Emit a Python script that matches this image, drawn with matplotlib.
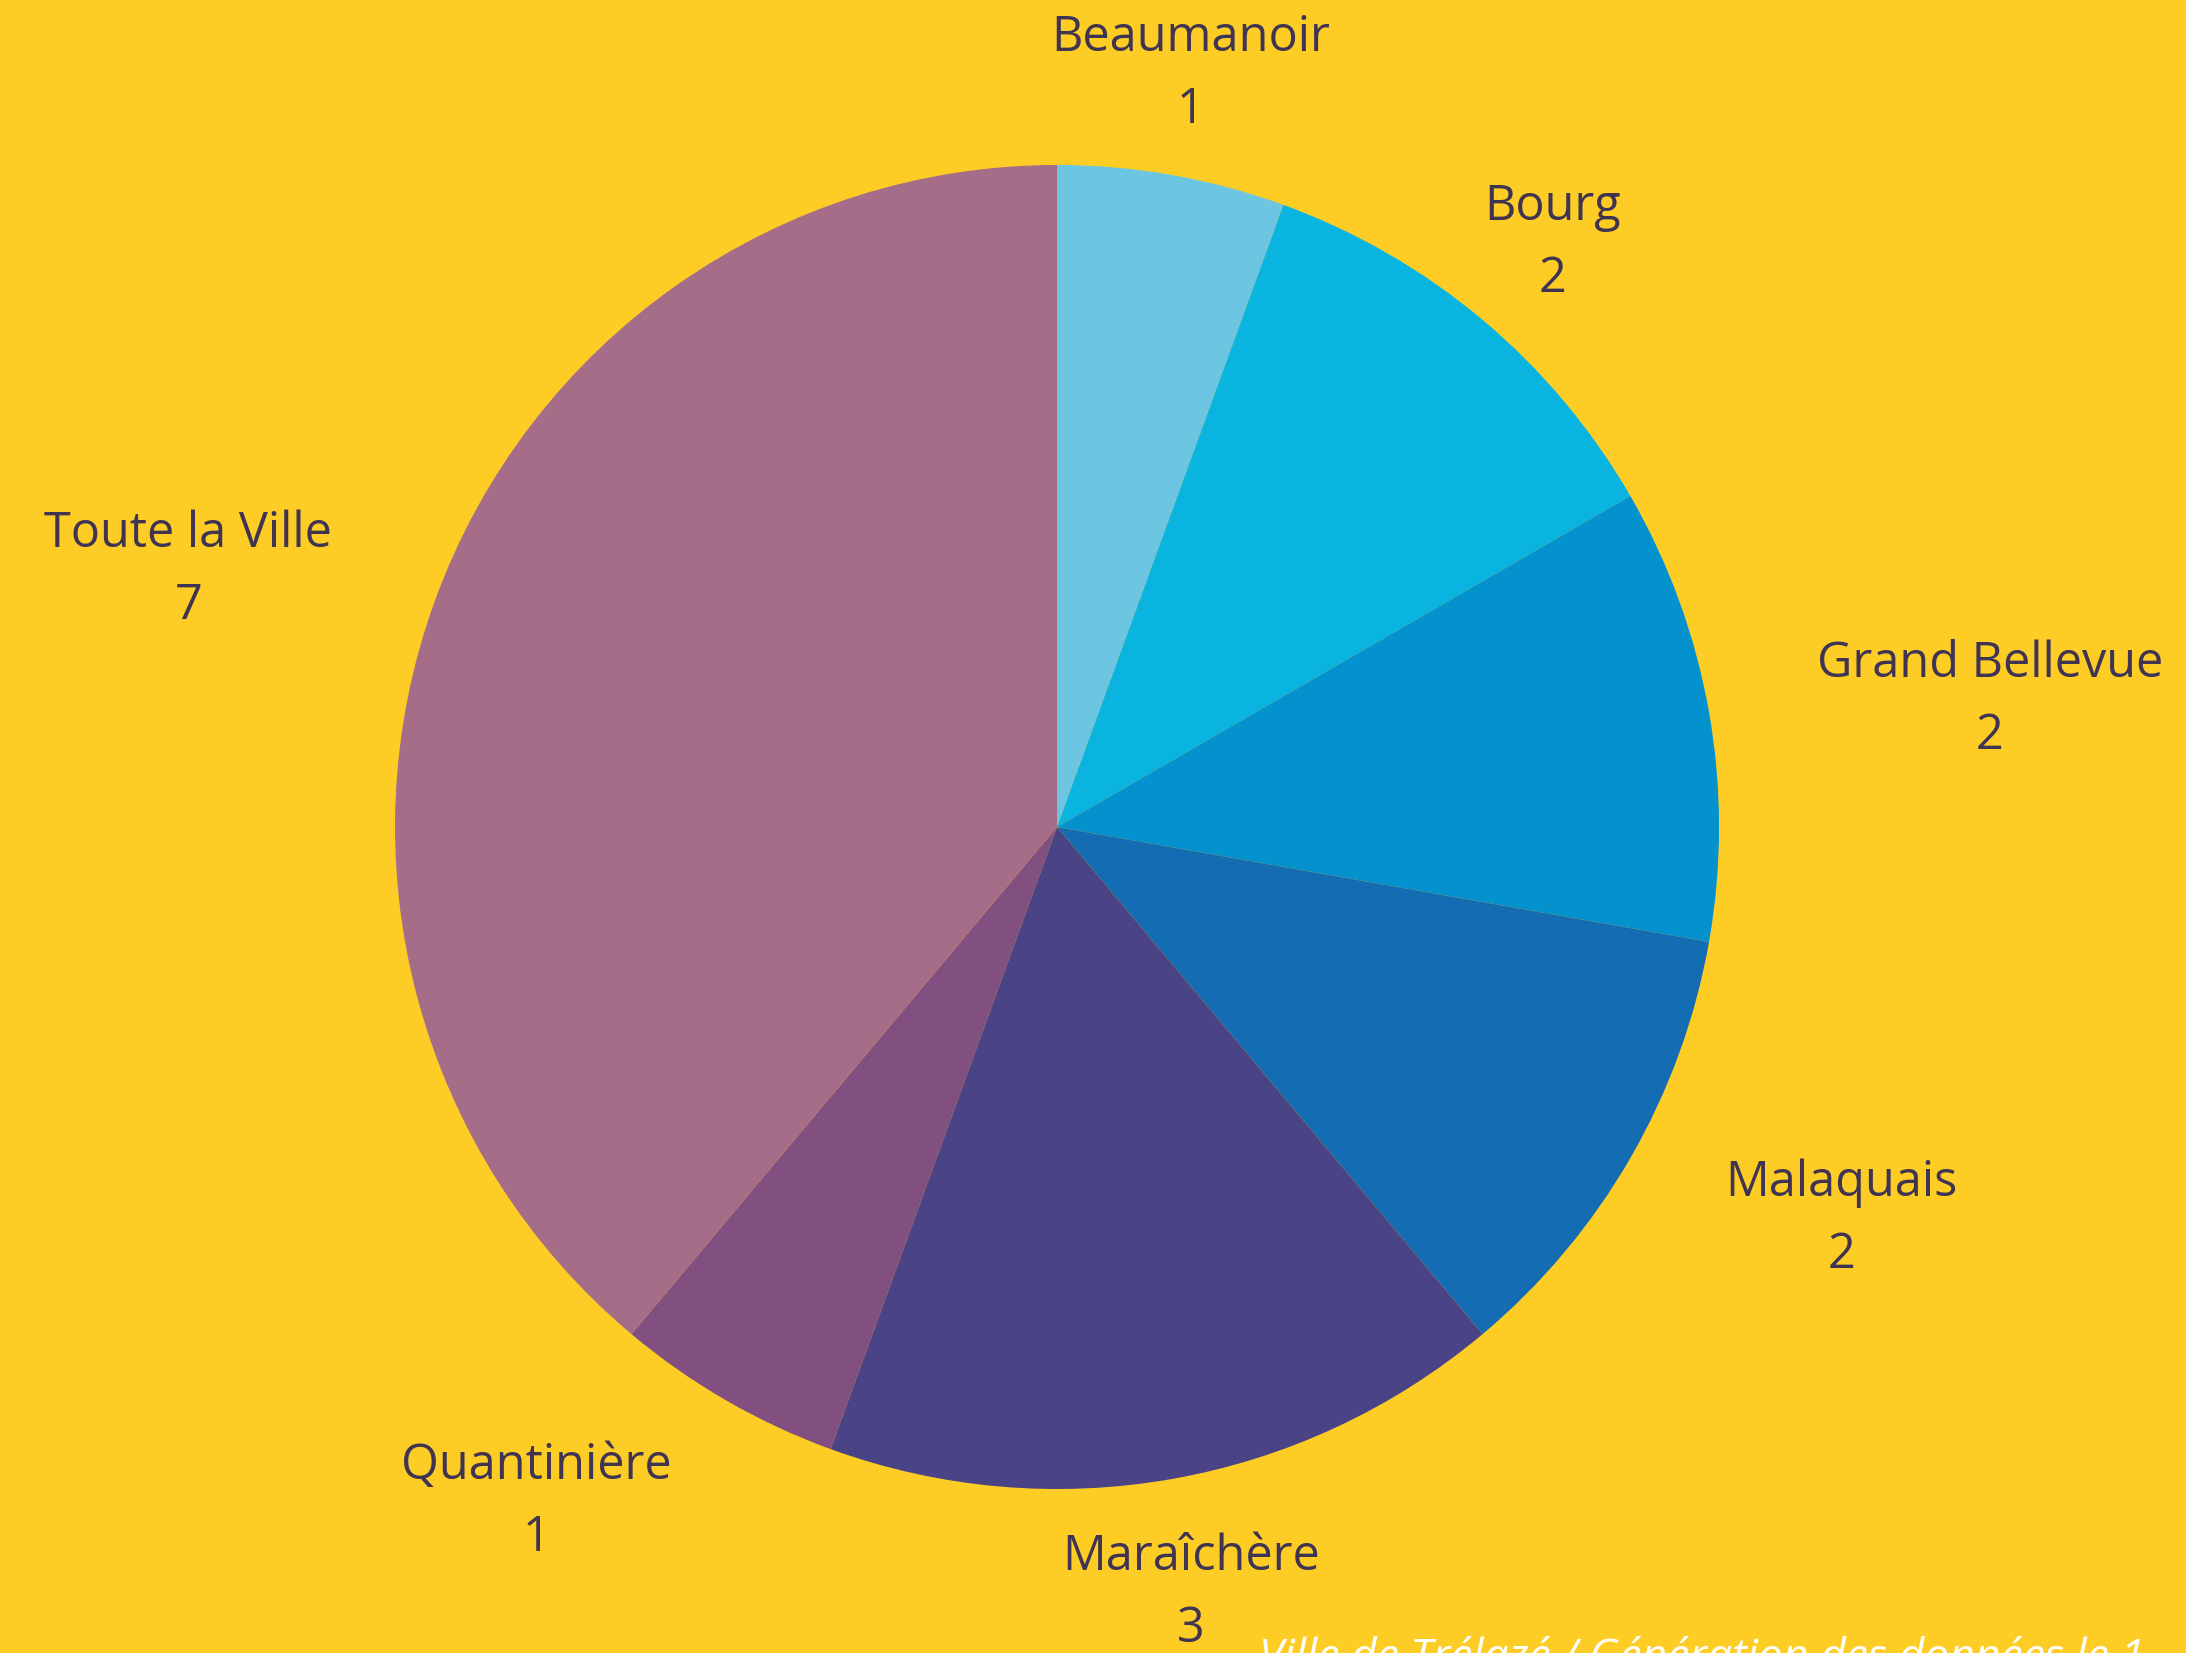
import matplotlib.pyplot as plt
from matplotlib.transforms import offset_copy

quartiers = ['Beaumanoir', 'Bourg', 'Grand Bellevue', 'Malaquais',
             'Maraîchère', 'Quantinière', 'Toute la Ville']
nombres = [1, 2, 2, 2, 3, 1, 7]
couleurs = ['#6CC5E1', '#0AB4E0', '#0492CF', '#146CB3',
            '#4A4486', '#814F80', '#A66D89']

fond = '#FDCD26'
texte = '#3F3452'

plt.rcParams['font.family'] = ['Open Sans', 'DejaVu Sans']

fig = plt.figure(figsize=(21.86, 16.53), dpi=100, facecolor=fond)
ax = fig.add_axes([0.1807, 0.0992, 0.6057, 0.801])
ax.set_facecolor(fond)

labels = [f'{q}\n{n}' for q, n in zip(quartiers, nombres)]
wedges, texts = ax.pie(nombres, colors=couleurs, startangle=90, counterclock=False,
                       labels=labels, labeldistance=1.165,
                       textprops=dict(color=texte, fontsize=35, linespacing=1.6))

# alignement des étiquettes comme dans l'original, un peu plus bas
decale = offset_copy(ax.transData, fig=fig, x=0, y=-7, units='dots')
align = ['center', 'center', 'left', 'left', 'center', 'right', 'right']
for t, ha in zip(texts, align):
    t.set_ha(ha)
    t.set_va('center')
    t.set_multialignment('center')
    t.set_transform(decale)

ax.set_xlim(-1, 1)
ax.set_ylim(-1, 1)
ax.set_aspect('equal')
ax.axis('off')

fig.text(0.576, 0.010, 'Ville de Trélazé / Génération des données le 1',
         color='white', fontsize=32, fontstyle='italic',
         ha='left', va='top')

fig.savefig('out.png', dpi=100, facecolor=fond)
